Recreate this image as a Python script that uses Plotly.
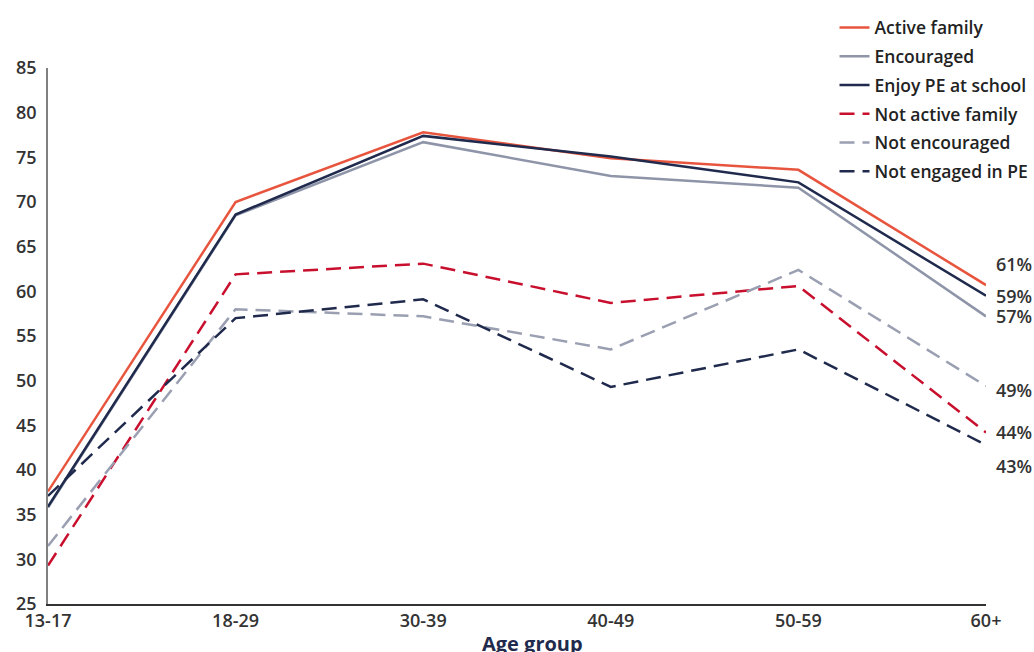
import plotly.graph_objects as go

# age groups on the x axis
age_groups = ["13-17", "18-29", "30-39", "40-49", "50-59", "60+"]

# share (%) per age group
active_family = [37.6, 70.0, 77.8, 74.9, 73.6, 60.7]
encouraged = [35.8, 68.5, 76.7, 72.9, 71.6, 57.2]
enjoy_pe = [35.9, 68.6, 77.4, 75.1, 72.2, 59.5]
not_active_family = [29.3, 61.9, 63.1, 58.7, 60.6, 44.2]
not_encouraged = [31.5, 58.0, 57.2, 53.5, 62.4, 49.4]
not_engaged_pe = [37.1, 57.0, 59.1, 49.3, 53.5, 42.8]

end_labels = ["61%", "57%", "59%", "44%", "49%", "43%"]

series = [
    ("Active family", active_family, "#E8553E", "solid", 21),
    ("Encouraged", encouraged, "#8F95A8", "solid", 0),
    ("Enjoy PE at school", enjoy_pe, "#1F2A4D", "solid", 0),
    ("Not active family", not_active_family, "#C8102E", "15px,8px", 0),
    ("Not encouraged", not_encouraged, "#9A9FB1", "15px,8px", -4),
    ("Not engaged in PE", not_engaged_pe, "#1F2A4D", "15px,8px", -21),
]

fig = go.Figure()
for (name, vals, col, dash, shift), lab in zip(series, end_labels):
    fig.add_trace(go.Scatter(
        x=age_groups, y=vals, name=name, mode="lines", legendgroup=name,
        line=dict(color=col, width=2.5, dash=dash),
    ))
    fig.add_annotation(
        x=age_groups[-1], y=vals[-1], text=lab, showarrow=False,
        xanchor="left", xshift=8, yshift=shift,
        font=dict(family="Open Sans", size=18, color="#333333", weight=600),
    )

fig.add_annotation(
    x=0.5, y=0, xref="paper", yref="paper", xshift=15, yshift=-39,
    text="Age group", showarrow=False, yanchor="middle",
    font=dict(family="Open Sans", size=20, color="#1F2A4D", weight=700),
)

fig.update_layout(
    width=1034, height=652,
    margin=dict(l=48, r=48, t=68, b=48, autoexpand=False),
    plot_bgcolor="white", paper_bgcolor="white",
    font=dict(family="Open Sans", size=18, color="#333333"),
    showlegend=True,
    legend=dict(
        x=0.8385, y=1.109, xanchor="left", yanchor="top",
        bgcolor="rgba(0,0,0,0)",
        font=dict(family="Open Sans", size=17.5, color="#222222", weight=600),
        tracegroupgap=3,
    ),
    xaxis=dict(
        range=[0, 5], showgrid=False, zeroline=False, automargin=False,
        showline=True, linecolor="#333333", linewidth=1.5,
        ticks="", tickfont=dict(size=18, weight=600),
    ),
    yaxis=dict(
        range=[25, 85], dtick=5, showgrid=False, zeroline=False, automargin=False,
        showline=True, linecolor="#808080", linewidth=1.5,
        ticks="", ticklabelstandoff=6, tickfont=dict(size=18, weight=600),
    ),
)

# drop the default 8px body margin so the figure fills the window exactly
fig.write_html("out.html", config={"displayModeBar": False},
               post_script="document.body.style.margin='0';")
